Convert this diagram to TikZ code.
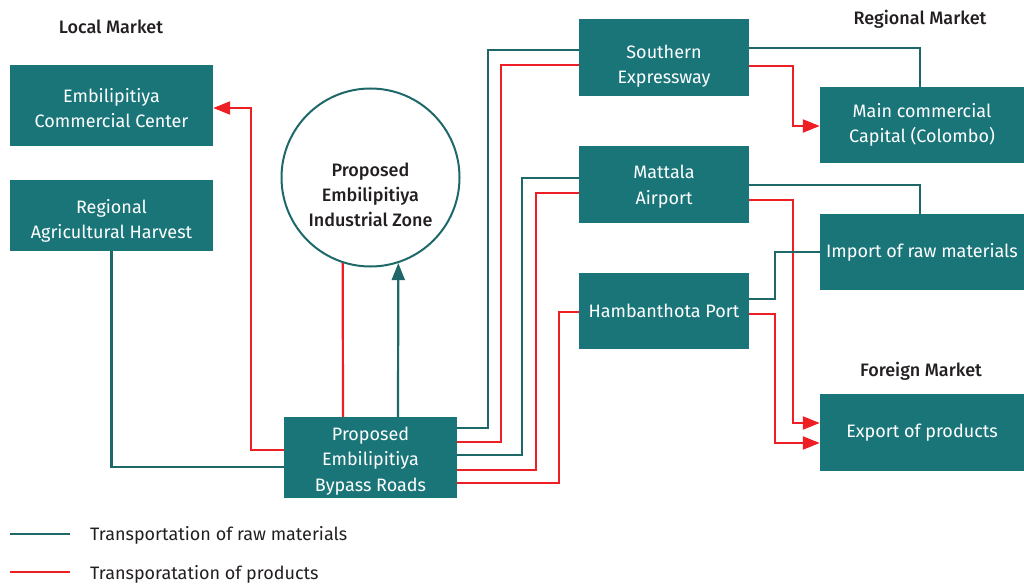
\documentclass[tikz,border=0pt]{standalone}
\usepackage{fontspec}
\setmainfont{Fira Sans}
\newfontfamily\medfont{Fira Sans}[UprightFont={* Medium}]
\usetikzlibrary{arrows.meta,calc}
\definecolor{boxc}{RGB}{26,117,121}
\definecolor{tealc}{RGB}{30,104,105}
\definecolor{redc}{RGB}{237,31,36}
\definecolor{txt}{RGB}{35,31,32}
\newcommand{\tdown}[1]{\rule{0pt}{#1}}
\begin{document}
\begin{tikzpicture}[x=1pt,y=-1pt,
  box/.style={fill=boxc,text=white,align=center,inner sep=0pt,font=\fontsize{18}{25.5}\selectfont},
  raw/.style={draw=tealc,line width=2.2pt},
  prod/.style={draw=redc,line width=2.2pt},
  tip/.style={-{Triangle[length=17pt,width=13pt]}},
  title/.style={text=txt,font=\fontsize{18}{20}\selectfont\medfont},
  legtext/.style={text=txt,anchor=west,inner sep=0pt,font=\fontsize{18}{20}\selectfont}]
\useasboundingbox (0,0) rectangle (1024,583);

% titles
\node[title] (tlocal) at (111,27) {Local Market};
\node[title] (tregional) at (920,19) {Regional Market};
\node[title] (tforeign) at (921,371) {Foreign Market};

% boxes
\node[box,minimum width=203pt,minimum height=81pt] (commercial) at (111.5,105.5) {\tdown{19pt}Embilipitiya\\Commercial Center};
\node[box,minimum width=203pt,minimum height=71pt] (harvest) at (111.5,215.5) {\tdown{25pt}Regional\\Agricultural Harvest};
\node[box,minimum width=173pt,minimum height=81pt] (bypass) at (370.5,457.5) {\tdown{20pt}Proposed\\Embilipitiya\\Bypass Roads};
\node[box,minimum width=170pt,minimum height=77pt] (southern) at (664,57.5) {\tdown{31pt}Southern\\Expressway};
\node[box,minimum width=170pt,minimum height=77pt] (mattala) at (664,184.5) {\tdown{18pt}Mattala\\Airport};
\node[box,minimum width=170pt,minimum height=76pt] (port) at (664,311) {Hambanthota Port};
\node[box,minimum width=204pt,minimum height=76pt] (capital) at (922,125) {Main commercial\\Capital (Colombo)};
\node[box,minimum width=204pt,minimum height=76pt] (import) at (922,252) {Import of raw materials};
\node[box,minimum width=204pt,minimum height=77pt] (export) at (922,432.5) {Export of products};

% circle
\node[circle,draw=tealc,line width=2pt,minimum size=178pt,inner sep=0pt] (zone) at (370.5,177.5) {};
\node[align=center,text=txt,font=\fontsize{18}{25}\selectfont\medfont] (zonetext) at (370.5,195) {Proposed\\Embilipitiya\\Industrial Zone};

% local connectors
\draw[prod,tip] (bypass.west |- 0,450) -- (251,450) -- (251,108) -- (commercial.east |- 0,108);
\draw[raw] (harvest.south) |- (bypass.west |- 0,467);
\draw[prod] (bypass.north -| 343,0) -- (zone.252);
\draw[raw,tip] (bypass.north -| 398,0) -- (zone.288);

% bypass to hubs
\draw[raw] (bypass.east |- 0,428) -| (488,50) -- (southern.west |- 0,50);
\draw[prod] (bypass.east |- 0,442) -| (501,65) -- (southern.west |- 0,65);
\draw[raw] (bypass.east |- 0,455) -| (522,178) -- (mattala.west |- 0,178);
\draw[prod] (bypass.east |- 0,470) -| (536,193) -- (mattala.west |- 0,193);
\draw[prod] (bypass.east |- 0,483) -| (559,312) -- (port.west |- 0,312);

% hubs to markets
\draw[raw] (southern.east |- 0,48) -| (capital.north -| 920,0);
\draw[prod,tip] (southern.east |- 0,66) -| (793,126) -- (capital.west |- 0,126);
\draw[raw] (mattala.east |- 0,185) -| (import.north -| 920,0);
\draw[prod,tip] (mattala.east |- 0,200) -| (793,423) -- (export.west |- 0,423);
\draw[raw] (port.east |- 0,299) -| (775,252) -- (import.west |- 0,252);
\draw[prod,tip] (port.east |- 0,314) -| (775,443) -- (export.west |- 0,443);

% legend
\coordinate (la1) at (10,534);
\coordinate (lb1) at (70,534);
\coordinate (la2) at (10,572);
\coordinate (lb2) at (70,572);
\draw[raw] (la1) -- (lb1);
\draw[prod] (la2) -- (lb2);
\node[legtext] (leg1) at (90,535) {Transportation of raw materials};
\node[legtext] (leg2) at (90,574) {Transporatation of products};
\end{tikzpicture}
\end{document}
